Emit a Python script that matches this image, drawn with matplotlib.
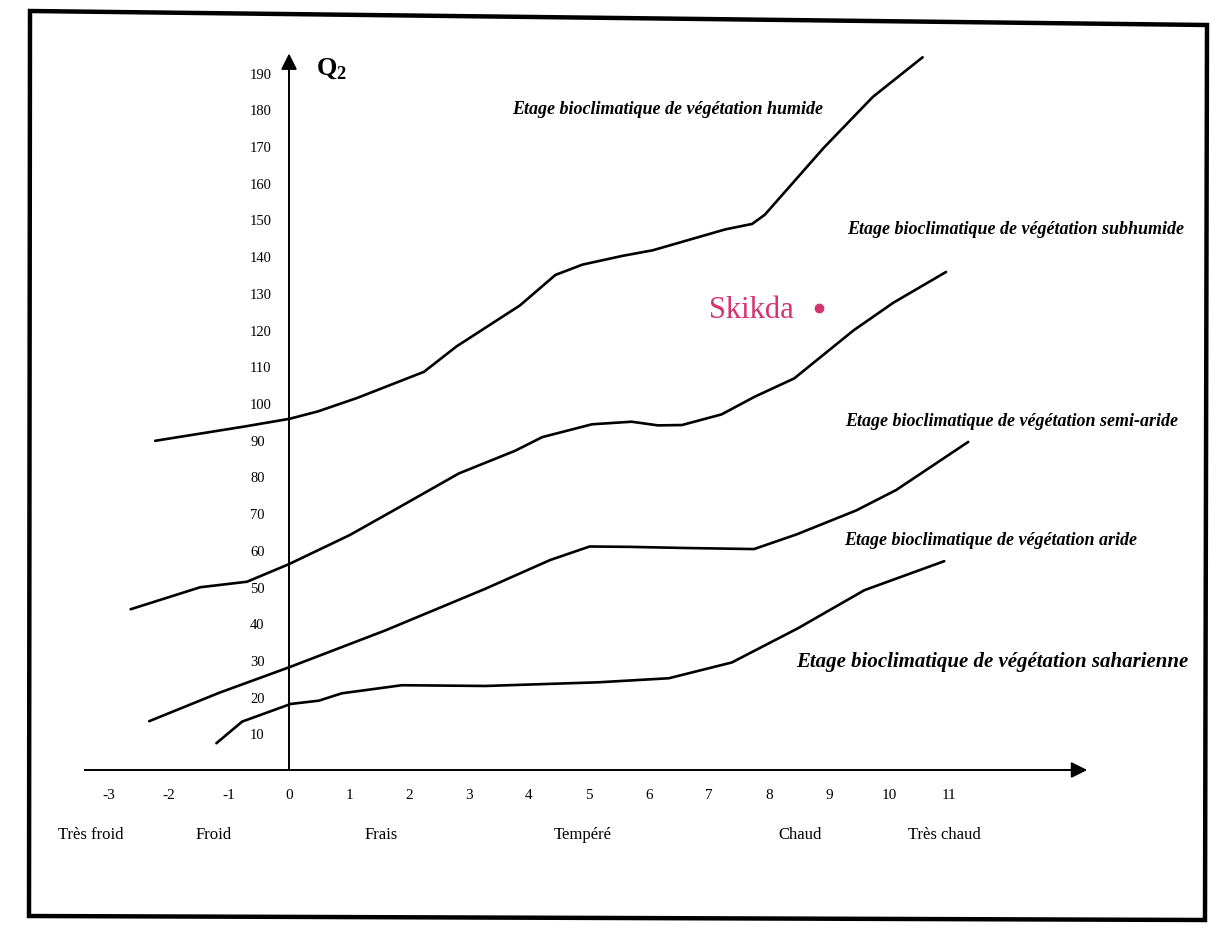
import matplotlib
matplotlib.use("Agg")
import matplotlib.pyplot as plt
from matplotlib.patches import Polygon

plt.rcParams["font.family"] = ["Liberation Serif", "DejaVu Serif"]
plt.rcParams["mathtext.fontset"] = "custom"
plt.rcParams["mathtext.rm"] = "Liberation Serif"
plt.rcParams["mathtext.bf"] = "Liberation Serif:bold"

# m (minimum temperature of the coldest month, °C) against Q2
humide_x = [-2.23, -0.74, 0.01, 0.48, 1.14, 2.25, 2.79, 3.85, 4.44, 4.89, 5.56,
            6.06, 7.27, 7.72, 7.93, 8.91, 9.73, 10.56]
humide_y = [89.7, 93.6, 95.7, 97.7, 101.4, 108.5, 115.4, 126.6, 134.9, 137.7, 140.1,
            141.6, 147.3, 148.8, 151.3, 169.5, 183.4, 194.2]

subhumide_x = [-2.64, -1.48, -0.70, 0.0, 1.01, 1.74, 2.83, 3.77, 4.22, 5.05, 5.71,
               6.15, 6.55, 7.21, 7.76, 8.42, 9.41, 10.07, 10.95]
subhumide_y = [43.8, 49.8, 51.3, 56.1, 64.0, 70.7, 80.8, 87.0, 90.7, 94.2, 94.9,
               93.9, 94.0, 96.9, 101.7, 106.7, 119.8, 127.3, 135.7]

semiaride_x = [-2.33, -1.17, 0.02, 1.60, 3.26, 4.35, 5.01, 5.68, 6.58, 7.75, 8.46,
               9.45, 10.12, 11.32]
semiaride_y = [13.3, 21.0, 28.1, 38.0, 49.3, 57.2, 60.9, 60.8, 60.5, 60.2, 64.2,
               70.7, 76.3, 89.4]

aride_x = [-1.21, -0.78, 0.03, 0.50, 0.88, 1.88, 3.28, 5.16, 6.33, 7.38, 8.48,
           9.59, 10.92]
aride_y = [7.3, 13.2, 18.0, 18.9, 20.9, 23.1, 22.9, 23.9, 25.0, 29.3, 38.6,
           49.0, 56.9]

station_name = "Skikda"
station_m = 8.84
station_q2 = 126.0

x_ticks = list(range(-3, 12))
y_ticks = list(range(10, 200, 10))

etages = ["Etage bioclimatique de végétation humide",
          "Etage bioclimatique de végétation subhumide",
          "Etage bioclimatique de végétation semi-aride",
          "Etage bioclimatique de végétation aride",
          "Etage bioclimatique de végétation saharienne"]
etage_x = [3.72, 9.30, 9.27, 9.26, 8.46]
etage_y = [180.2, 147.5, 95.2, 62.8, 29.6]

hivers = ["Très froid", "Froid", "Frais", "Tempéré", "Chaud", "Très chaud"]
hivers_x = [-3.3, -1.25, 1.53, 4.9, 8.52, 10.92]

fig = plt.figure(figsize=(12.24, 9.29), dpi=100)
ax = fig.add_axes([0, 0, 1, 1])
ax.set_xlim(-4.817, 15.583)
ax.set_ylim(-43.05, 210.08)
ax.patch.set_alpha(0)

ax.spines["top"].set_visible(False)
ax.spines["right"].set_visible(False)
ax.spines["left"].set_position(("data", 0))
ax.spines["bottom"].set_position(("data", 0))
ax.spines["left"].set_bounds(0, 192)
ax.spines["bottom"].set_bounds(-3.4, 13.0)
ax.spines["left"].set_linewidth(1.4)
ax.spines["bottom"].set_linewidth(1.4)

# arrow heads
ax.annotate("", xy=(0, 196), xytext=(0, 188),
            arrowprops=dict(arrowstyle="-|>", color="k", lw=1.4, mutation_scale=24))
ax.annotate("", xy=(13.35, 0), xytext=(12.9, 0),
            arrowprops=dict(arrowstyle="-|>", color="k", lw=1.4, mutation_scale=24))

ax.set_xticks(x_ticks)
ax.set_xticklabels([str(v) for v in x_ticks])
ax.set_yticks(y_ticks)
ax.set_yticklabels([str(v) for v in y_ticks])
ax.tick_params(axis="x", length=0, pad=13, labelsize=11)
ax.tick_params(axis="y", length=0, pad=28, labelsize=10.5)
for lab in ax.get_yticklabels():
    lab.set_horizontalalignment("left")

for xs, ys in [(humide_x, humide_y), (subhumide_x, subhumide_y),
               (semiaride_x, semiaride_y), (aride_x, aride_y)]:
    ax.plot(xs, ys, color="black", lw=1.9, solid_capstyle="round",
            solid_joinstyle="round")

ax.text(0.45, 191.5, r"$\mathbf{Q}_{\mathbf{2}}$", fontsize=19, va="center", ha="left")

for i, name in enumerate(etages):
    size = 15 if i == 4 else 13
    ax.text(etage_x[i], etage_y[i], name, fontsize=size, style="italic",
            weight="bold", va="center", ha="left")

for name, xp in zip(hivers, hivers_x):
    ax.text(xp, -17.5, name, fontsize=12, ha="center", va="center")

ax.plot([station_m], [station_q2], "o", color="#d6336c", ms=6)
ax.text(station_m - 0.43, station_q2 - 0.5, station_name, color="#d6336c",
        fontsize=22, ha="right", va="center")

# outer frame
W, H = 1224.0, 929.0
corners = [(30, 12), (1207, 26), (1205, 921), (29, 917)]
frame = Polygon([(px / W, 1 - py / H) for px, py in corners], closed=True,
                fill=False, ec="black", lw=3.2, transform=fig.transFigure)
fig.patches.append(frame)

fig.savefig("out.png", dpi=100)
